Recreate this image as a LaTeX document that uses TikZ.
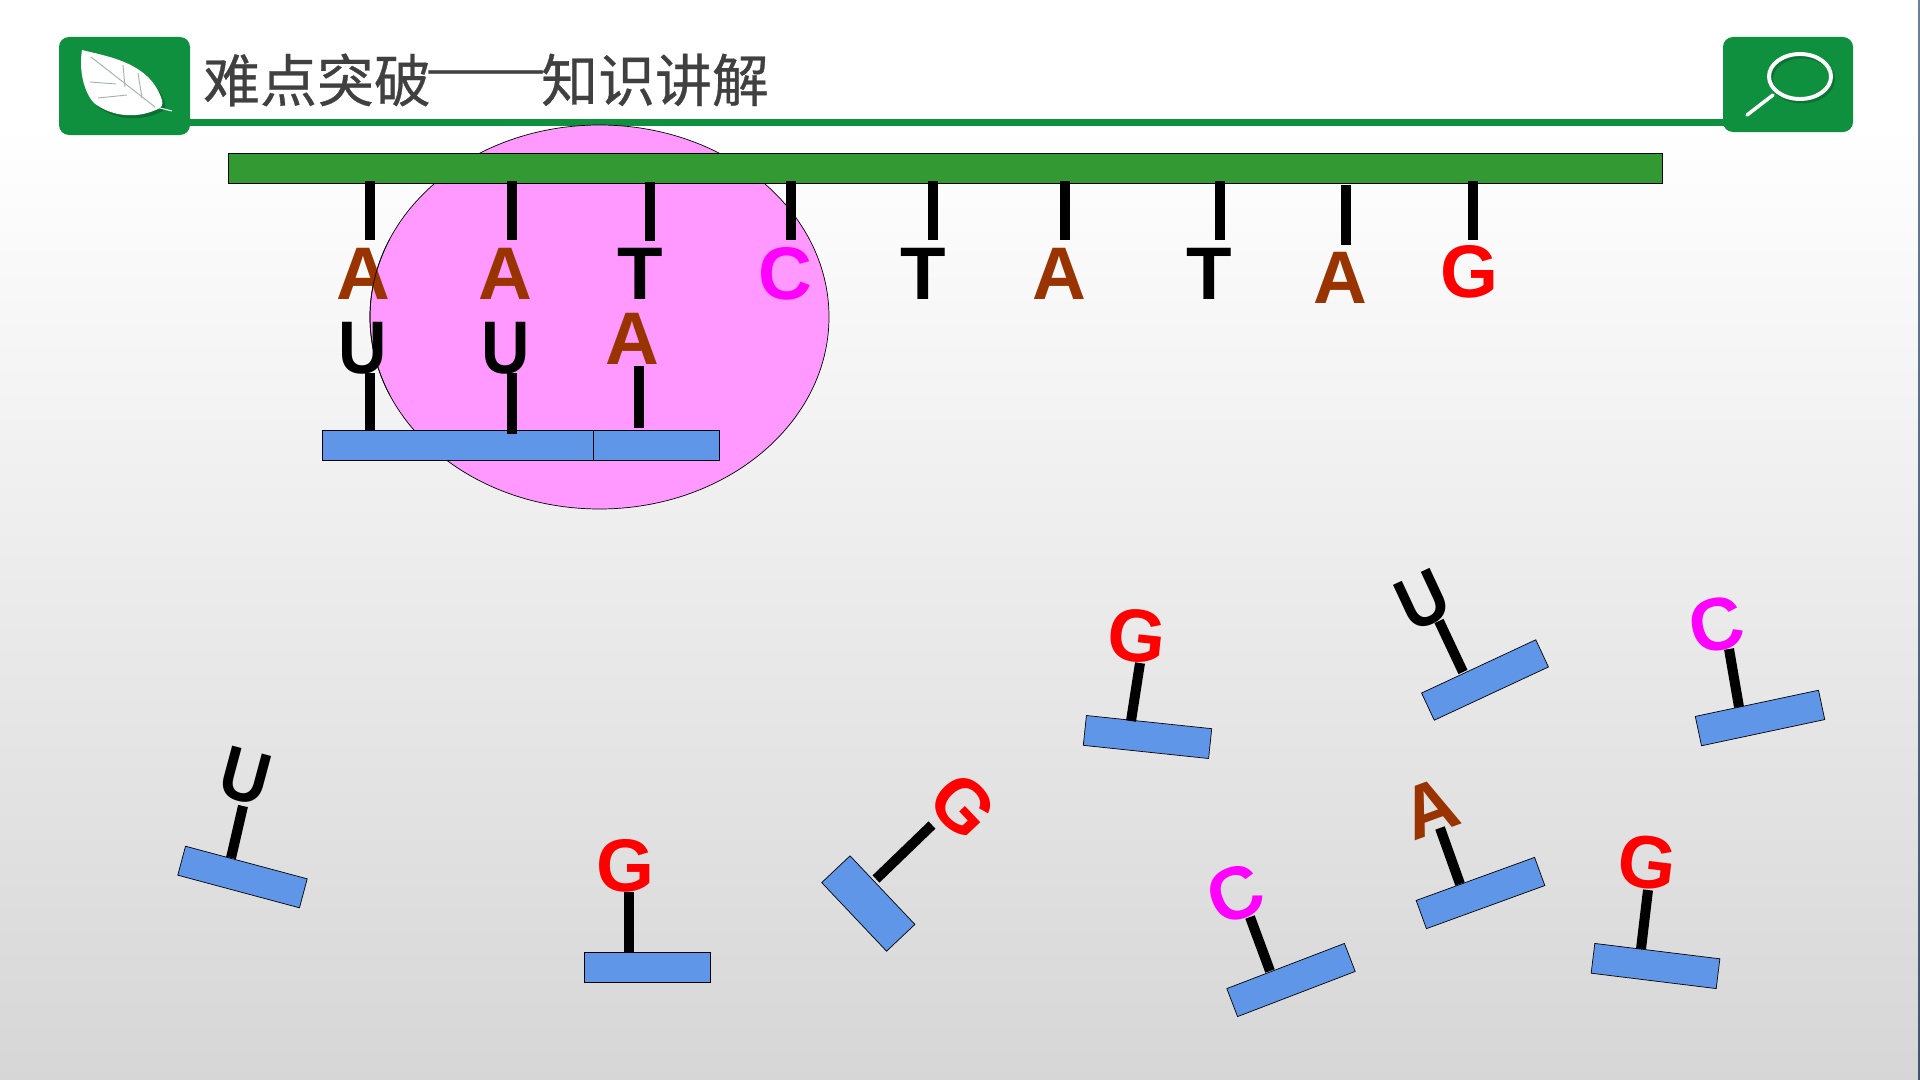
\documentclass[tikz,border=0pt]{standalone}
\usepackage{fontspec}
\usepackage{graphicx}
\setmainfont{Liberation Sans}
\newfontfamily\cjk[FakeBold=0.5]{Noto Sans CJK SC}
\newfontfamily\cjkplain{Noto Sans CJK SC}
\definecolor{hdrgreen}{HTML}{0F903F}
\definecolor{strand}{HTML}{339933}
\definecolor{tile}{HTML}{6096E8}
\definecolor{blob}{HTML}{FF99FF}
\definecolor{baseA}{HTML}{993300}
\definecolor{baseC}{HTML}{FF00FF}
\definecolor{baseG}{HTML}{FF0000}
\definecolor{baseT}{HTML}{000000}
\definecolor{baseU}{HTML}{000000}
\definecolor{veinleaf}{HTML}{9DB5A5}
\definecolor{inktitle}{HTML}{404040}
\newcommand{\narrowU}{\scalebox{0.9}[1]{U}}
\tikzset{
  x=0.05cm, y=-0.05cm,
  tilebox/.style={draw=black, line width=1pt, fill=tile, minimum width=6.3cm, minimum height=1.5cm, inner sep=0pt, outer sep=0pt},
  stem/.style={line width=0.5cm, draw=black},
  baseglyph/.style={inner sep=0pt, outer sep=0pt, font=\fontsize{106}{106}\selectfont\bfseries},
  iconbox/.style={fill=hdrgreen, rounded corners=0.5cm},
  iconline/.style={draw=white, line cap=round},
  titletext/.style={inner sep=0pt, anchor=west, text=inktitle},
}
% free-floating nucleotide: tile centre, angle, stem ends, letter centre, colour key, letter, extra tile options
\newcommand{\nucl}[9]{%
  \node[tilebox, rotate=#3, #9] (tile#1) at (#2) {};
  \coordinate (foot#1) at (#4);
  \coordinate (head#1) at (#5);
  \draw[stem] (foot#1) -- (head#1);
  \node[baseglyph, rotate=#3, text=base#7] (glyph#1) at (#6) {#8};
}
\begin{document}
\begin{tikzpicture}
\useasboundingbox (0,0) rectangle (1920,1080);
% slide background
\fill[white] (0,0) rectangle (1920,125);
\shade[top color=white, middle color=white!89.5!black, bottom color=white!84!black] (0,125) rectangle (1920,1080);
\shade[top color={rgb,255:red,107;green,130;blue,153}, bottom color={rgb,255:red,61;green,86;blue,107}] (1918,0) rectangle (1920,1080);

% header rule and icons
\fill[hdrgreen] (185,119) rectangle (1730,126);
\fill[iconbox] (59,37) rectangle (190,135);
\fill[iconbox] (1723,37) rectangle (1853,132);

% leaf
\fill[black, opacity=0.22] (85,53) .. controls (112,60) and (152,66) .. (165,103) .. controls (166,108) and (165,110) .. (161,112) .. controls (140,122) and (115,120) .. (97,106) .. controls (86,94) and (82,72) .. (85,53) -- cycle;
\fill[white] (82,50) .. controls (110,57) and (150,63) .. (162,100) .. controls (163,105) and (162,107) .. (158,109) .. controls (137,119) and (112,117) .. (94,103) .. controls (83,91) and (79,69) .. (82,50) -- cycle;
\draw[white, line width=1.4pt] (156,107) -- (172,111);
\draw[veinleaf, line width=1.3pt] (91,57) -- (155,107);
\draw[veinleaf, line width=1.3pt] (90,82) -- (116,84) (98,98) -- (127,95) (123,65) -- (125,87) (138,73) -- (142,98);

% magnifier
\draw[black, opacity=0.2, line width=5.6pt] (1802,79) ellipse (31 and 22.5);
\draw[iconline, line width=5.6pt] (1800,76.5) ellipse (31 and 22.5);
\draw[iconline, line width=5pt] (1773,95) -- (1747,115);

% heading
\node[titletext, font=\cjk\fontsize{81}{81}\selectfont] (headingL) at (203,80) {难点突破};
\node[titletext, font=\cjkplain\fontsize{81}{81}\selectfont] (headingD) at (425,80) {\scalebox{1.27}[1]{——}};
\node[titletext, font=\cjk\fontsize{81}{81}\selectfont] (headingR) at (541,80) {知识讲解};

% ribosome
\fill[blob] (599.5,317) ellipse (229.5 and 192);
\draw[black, line width=1pt] (599.5,317) ellipse (229.5 and 192);

% template strand
\node[draw=black, line width=1pt, fill=strand, inner sep=0pt, outer sep=0pt, minimum width=71.7cm, minimum height=1.5cm] (strandbar) at (945.5,168.5) {};

% bases on the template strand
\foreach \i/\sx/\sa/\sb/\lx/\ly/\b in {
  1/370/181/240/363/274/A, 2/512/181/240/505.5/274/A,
  3/650/182/241/640/274/T, 4/791/181/240/785/274/C,
  5/933/181/240/923/274/T, 6/1065/181/240/1059/274/A,
  7/1220/181/240/1209/274/T, 8/1346/185/245/1340/278/A,
  9/1473/181/240/1469/272/G}{
  \coordinate (upper\i) at (\sx,\sa);
  \coordinate (lower\i) at (\sx,\sb);
  \draw[stem] (upper\i) -- (lower\i);
  \node[baseglyph, text=base\b] (tbase\i) at (\lx,\ly) {\b};
}

% growing chain
\node[tilebox, minimum width=13.55cm] (chainA) at (457.5,445) {};
\node[tilebox, minimum width=6.33cm] (chainB) at (656.3,445) {};
\coordinate (c1a) at (370,430); \coordinate (c1b) at (370,373);
\coordinate (c2a) at (512,434); \coordinate (c2b) at (512,373);
\coordinate (c3a) at (639,428); \coordinate (c3b) at (639,366);
\draw[stem] (c1a) -- (c1b);
\draw[stem] (c2a) -- (c2b);
\draw[stem] (c3a) -- (c3b);
\node[baseglyph, text=baseU] (pairU1) at (363,348) {\narrowU};
\node[baseglyph, text=baseU] (pairU2) at (505.5,348) {\narrowU};
\node[baseglyph, text=baseA] (pairA) at (632,339) {A};

% ribosome edge running across the first column of letters
\draw[black, line width=1pt] (389.8,395.1) arc[start angle=156, end angle=204, x radius=229.5, y radius=192];

% free nucleotides
\nucl{a}{242.5,877}{-15}{231,858}{243,806}{245,776}{U}{\narrowU}{}
\nucl{b}{647,967}{0}{629,952}{629,892}{625.5,866}{G}{G}{}
\nucl{c}{868.3,903.5}{-46.6}{876,879}{932,825}{963.5,806}{G}{G}{minimum width=4.72cm, minimum height=1.95cm}
\nucl{d}{1147.5,737}{-6}{1131,721}{1140,663}{1137,636}{G}{G}{}
\nucl{e}{1485,680}{25}{1463,672}{1439,621}{1423,600}{U}{\narrowU}{}
\nucl{f}{1760,718}{12}{1739,707}{1729,649}{1716.5,625}{C}{C}{}
\nucl{g}{1480.5,893}{20}{1460,884}{1440,828}{1429.5,808}{A}{A}{}
\nucl{h}{1291,980}{21}{1270,971}{1250,917}{1235,894}{C}{C}{}
\nucl{i}{1655.5,966}{-7}{1641,949}{1648,890}{1647.5,863}{G}{G}{}
\end{tikzpicture}
\end{document}
